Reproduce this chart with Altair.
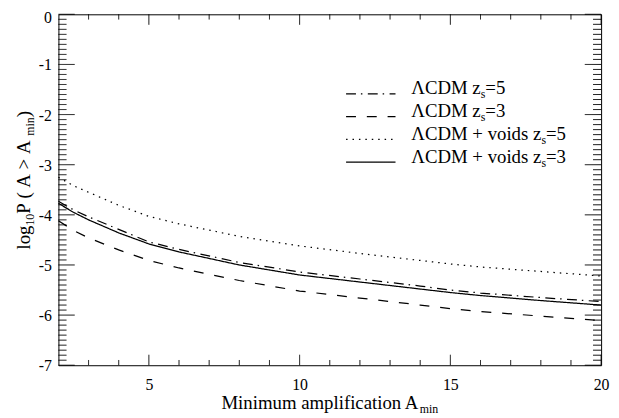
import altair as alt
import pandas as pd

# ---------------- data ----------------
A_min = [2, 2.5, 3, 4, 5, 6, 8, 10, 12, 14, 15, 16, 18, 20]
lcdm_z5 = [-3.73, -3.90, -4.04, -4.29, -4.54, -4.69, -4.95, -5.14, -5.28, -5.42, -5.50, -5.56, -5.65, -5.73]
lcdm_z3 = [-4.12, -4.31, -4.46, -4.70, -4.91, -5.06, -5.31, -5.52, -5.66, -5.80, -5.87, -5.93, -6.02, -6.11]
voids_z5 = [-3.25, -3.42, -3.55, -3.81, -4.03, -4.18, -4.43, -4.62, -4.77, -4.91, -4.98, -5.04, -5.13, -5.22]
voids_z3 = [-3.77, -3.95, -4.10, -4.36, -4.58, -4.74, -5.00, -5.20, -5.34, -5.48, -5.55, -5.61, -5.71, -5.80]

series_names = ["LCDM_z5", "LCDM_z3", "voids_z5", "voids_z3"]
series_values = [lcdm_z5, lcdm_z3, voids_z5, voids_z3]
dash_styles = [[10, 5, 1.5, 5.5], [10, 11], [1.5, 5], [1, 0]]

x_major = [5, 10, 15, 20]
x_minor = [3, 4, 6, 7, 8, 9, 11, 12, 13, 14, 16, 17, 18, 19]
y_major = [0, -1, -2, -3, -4, -5, -6, -7]
y_minor = [-(i / 10.0) for i in range(1, 70) if i % 10 != 0]

legend_main = ["\u039bCDM z", "\u039bCDM z", "\u039bCDM + voids z", "\u039bCDM + voids z"]
legend_tail = ["=5", "=3", "=5", "=3"]

# ---------------- layout ----------------
W, H = 549, 355
XMIN, XMAX, YMIN, YMAX = 2, 20, -7, 0
FONT = "Liberation Serif"
FS = 19      # titles / legend
FSUB = 12    # subscripts
FTICK = 16
BLACK = "#000000"
NB = "\u00a0"

TIMES = {'\u039b': 722, 'C': 667, 'D': 722, 'M': 889, ' ': 250, NB: 250, 'z': 444, 's': 389, '=': 564,
         '5': 500, '3': 500, '+': 564, 'v': 500, 'o': 500, 'i': 278, 'd': 500, 'l': 278,
         'g': 500, '1': 500, '0': 500, 'P': 556, '(': 333, ')': 333, 'A': 722, '>': 564,
         'm': 778, 'n': 500, 'u': 500, 'a': 444, 'p': 500, 'f': 333, 'c': 444, 't': 278}


def tw(s, fs):
    return sum(TIMES.get(c, 500) for c in s) * fs / 1000.0


xs = alt.Scale(domain=[XMIN, XMAX], nice=False, zero=False)
ys = alt.Scale(domain=[YMIN, YMAX], nice=False, zero=False)
px_x = W / (XMAX - XMIN)   # pixels per x unit
px_y = H / (YMAX - YMIN)   # pixels per y unit

xa = alt.Axis(values=x_major, ticks=False, domain=False, grid=False,
              labelFont=FONT, labelFontSize=FTICK, labelColor=BLACK,
              labelPadding=25, labelBaseline="alphabetic", title=None,
              labelFlush=False, labelExpr="'' + datum.value")
ya = alt.Axis(values=y_major, ticks=False, domain=False, grid=False,
              labelFont=FONT, labelFontSize=FTICK, labelColor=BLACK,
              labelPadding=7, title=None, labelFlush=False, labelBaseline="alphabetic",
              labelOffset={"condition": {"test": "datum.value == 0", "value": 8.5}, "value": 5.5},
              labelExpr="'' + datum.value")

# one table: curves + inward tick segments (two points each, length px -> data units)
rows = []
for name, vals in zip(series_names, series_values):
    for k, (a, v) in enumerate(zip(A_min, vals)):
        rows.append({"id": name, "series": name, "A": a, "logP": v, "o": k, "sw": 1.25})
n = 0
for vals, plen in ((x_major, 10.6), (x_minor, 5.3)):
    dl = plen / px_y
    for a in vals:
        for y0, y1 in ((YMIN, YMIN + dl), (YMAX, YMAX - dl)):
            n += 1
            rows.append({"id": f"t{n}", "series": "tick", "A": a, "logP": y0, "o": 0, "sw": 1.0})
            rows.append({"id": f"t{n}", "series": "tick", "A": a, "logP": y1, "o": 1, "sw": 1.0})
for vals, plen in ((y_major, 16.5), (y_minor, 8.2)):
    dl = plen / px_x
    for v in vals:
        for x0, x1 in ((XMIN, XMIN + dl), (XMAX, XMAX - dl)):
            n += 1
            rows.append({"id": f"t{n}", "series": "tick", "A": x0, "logP": v, "o": 0, "sw": 1.0})
            rows.append({"id": f"t{n}", "series": "tick", "A": x1, "logP": v, "o": 1, "sw": 1.0})
df = pd.DataFrame(rows)

lines = alt.Chart(df).mark_line(color=BLACK).encode(
    x=alt.X("A:Q", scale=xs, axis=xa),
    y=alt.Y("logP:Q", scale=ys, axis=ya),
    strokeDash=alt.StrokeDash("series:N",
                              scale=alt.Scale(domain=series_names + ["tick"],
                                              range=dash_styles + [[1, 0]]),
                              legend=None),
    strokeWidth=alt.StrokeWidth("sw:Q", scale=None, legend=None),
    detail="id:N",
    order="o:Q",
)

layers = [lines]


def txt(s, x, y, fs, angle=0):
    return alt.Chart(pd.DataFrame({"t": [s]})).mark_text(
        font=FONT, fontSize=fs, color=BLACK, align="left", baseline="alphabetic", angle=angle
    ).encode(x=alt.value(x), y=alt.value(y), text="t:N")


# ---------------- legend ----------------
leg_base = [81, 104, 127, 150]
leg_x0, leg_x1, leg_tx = 291, 341, 357
for i in range(4):
    by = leg_base[i]
    layers.append(alt.Chart(pd.DataFrame({"k": [0]})).mark_rule(
        color=BLACK, strokeWidth=1.2, strokeDash=dash_styles[i]).encode(
        x=alt.value(leg_x0), x2=alt.value(leg_x1), y=alt.value(by - 0.5)))
    x = leg_tx
    layers.append(txt(legend_main[i], x, by, FS))
    x += tw(legend_main[i], FS)
    layers.append(txt("s", x, by + 4, FSUB))
    x += tw("s", FSUB)
    layers.append(txt(legend_tail[i], x, by, FS))

# ---------------- x title ----------------
xt_main, xt_sub = "Minimum amplification A", "min"
total = tw(xt_main, FS) + tw(xt_sub, FSUB)
x0 = W / 2 - total / 2
layers.append(txt(xt_main, x0, 399, FS))
layers.append(txt(xt_sub, x0 + tw(xt_main, FS), 403, FSUB))

# ---------------- y title (rotated) ----------------
segs = [("log", FS, 0), ("10", FSUB, 4), (NB + "P" + NB + "(" + NB + "A" + NB + ">" + NB + "A", FS, 0),
        ("min", FSUB, 4), (NB + ")", FS, 0)]
pos = 238
bx = -29
for s, f, off in segs:
    layers.append(txt(s, bx + off, pos, f, angle=270))
    pos -= tw(s, f)

chart = alt.layer(*layers).properties(
    width=W, height=H,
    autosize=alt.AutoSizeParams(type="none"),
    padding={"left": 51, "top": 4, "right": 10, "bottom": 51},
    background="white",
).configure_view(stroke=BLACK, strokeWidth=1)

chart.save("out.html", embed_options={"renderer": "svg", "actions": False})
